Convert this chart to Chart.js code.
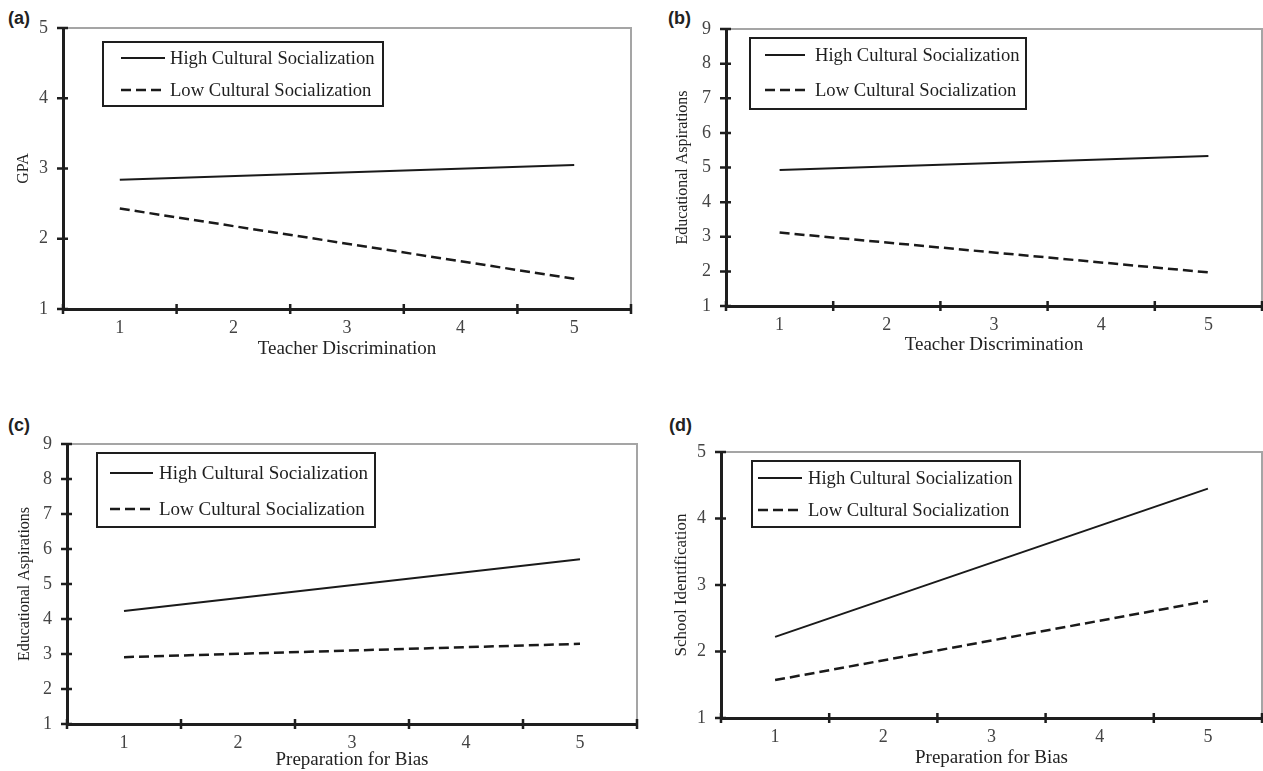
<!DOCTYPE html>
<html>
<head>
<meta charset="utf-8">
<title>Cultural socialization interaction plots</title>
<script src="https://cdn.jsdelivr.net/npm/chart.js@4.4.0/dist/chart.umd.min.js"></script>
<style>
  body { margin: 0; background: #fff; width: 1263px; height: 771px; overflow: hidden; position: relative; }
  .panel { position: absolute; }
  .tag { position: absolute; font-family: "Liberation Sans", Arial, sans-serif; font-weight: bold; font-size: 18px; line-height: 18px; color: #222; }
</style>
</head>
<body>
<div class="tag" style="left:8px;top:9px">(a)</div>
<div class="tag" style="left:668px;top:9px">(b)</div>
<div class="tag" style="left:8px;top:416px">(c)</div>
<div class="tag" style="left:669px;top:416px">(d)</div>

<div class="panel" style="left:0;top:0;width:640px;height:390px"><canvas id="chartA"></canvas></div>
<div class="panel" style="left:640px;top:0;width:623px;height:390px"><canvas id="chartB"></canvas></div>
<div class="panel" style="left:0;top:390px;width:640px;height:381px"><canvas id="chartC"></canvas></div>
<div class="panel" style="left:640px;top:390px;width:623px;height:381px"><canvas id="chartD"></canvas></div>

<script>
// data (only the end points at 1 and 5 are plotted)
const xLabels = ['1', '2', '3', '4', '5'];
const seriesNames = ['High Cultural Socialization', 'Low Cultural Socialization'];

const gpaHigh = [2.84, null, null, null, 3.05];
const gpaLow = [2.43, null, null, null, 1.43];

const aspTeacherHigh = [4.93, null, null, null, 5.33];
const aspTeacherLow = [3.12, null, null, null, 1.97];

const aspPrepHigh = [4.23, null, null, null, 5.71];
const aspPrepLow = [2.91, null, null, null, 3.29];

const schoolHigh = [2.22, null, null, null, 4.45];
const schoolLow = [1.57, null, null, null, 2.76];

const gpaTicks = [1, 5];
const aspTicks = [1, 9];
const schoolTicks = [1, 5];

Chart.defaults.font.family = '"Liberation Serif", "Times New Roman", serif';
Chart.defaults.color = '#333';

// gray frame on top/right + tick marks that cross the axis lines
const crossTicks = {
  id: 'crossTicks',
  afterDraw(chart) {
    const { ctx, chartArea: a, scales: { x, y } } = chart;
    ctx.save();
    ctx.strokeStyle = '#a5a5a5';
    ctx.lineWidth = 2;
    ctx.beginPath();
    ctx.moveTo(a.left, a.top);
    ctx.lineTo(a.right, a.top);
    ctx.lineTo(a.right, a.bottom);
    ctx.stroke();

    ctx.strokeStyle = '#1e1e1e';
    ctx.lineWidth = 2.5;
    ctx.beginPath();
    y.ticks.forEach(t => {
      const py = y.getPixelForValue(t.value);
      ctx.moveTo(a.left - 6, py);
      ctx.lineTo(a.left + 5, py);
    });
    const n = x.ticks.length;
    const step = (x.right - x.left) / n;
    for (let i = 0; i <= n; i++) {
      const px = x.left + i * step;
      ctx.moveTo(px, a.bottom - 5);
      ctx.lineTo(px, a.bottom + 5);
    }
    ctx.stroke();
    ctx.restore();
  }
};

// boxed legend inside the plot
const boxLegend = {
  id: 'boxLegend',
  afterDatasetsDraw(chart, args, opts) {
    const { ctx, chartArea: a } = chart;
    const bx = a.left + opts.dx, by = a.top + opts.dy;
    ctx.save();
    ctx.fillStyle = '#fff';
    ctx.fillRect(bx, by, opts.w, opts.h);
    ctx.lineWidth = 2;
    ctx.strokeStyle = '#1e1e1e';
    ctx.strokeRect(bx, by, opts.w, opts.h);
    chart.data.datasets.forEach((ds, i) => {
      const ly = by + opts.rows[i];
      ctx.setLineDash(ds.borderDash || []);
      ctx.lineWidth = ds.borderWidth;
      ctx.strokeStyle = ds.borderColor;
      ctx.beginPath();
      ctx.moveTo(bx + opts.s0, ly);
      ctx.lineTo(bx + opts.s1, ly);
      ctx.stroke();
      ctx.setLineDash([]);
      ctx.fillStyle = '#1e1e1e';
      ctx.font = opts.font;
      ctx.textBaseline = 'middle';
      ctx.fillText(ds.label, bx + opts.tx, ly + 1);
    });
    ctx.restore();
  }
};

function makePanel(id, high, low, yRange, xTitle, yTitle, lay, legend) {
  return new Chart(document.getElementById(id), {
    type: 'line',
    data: {
      labels: xLabels,
      datasets: [
        { label: seriesNames[0], data: high, borderColor: '#1a1a1a', borderWidth: 2, pointRadius: 0, spanGaps: true },
        { label: seriesNames[1], data: low, borderColor: '#1a1a1a', borderWidth: 2.5, borderDash: [10, 5], pointRadius: 0, spanGaps: true }
      ]
    },
    options: {
      responsive: true,
      maintainAspectRatio: false,
      animation: false,
      layout: { padding: lay.padding },
      scales: {
        x: {
          type: 'category',
          offset: true,
          grid: { display: false, drawTicks: false },
          border: { display: true, color: '#1e1e1e', width: 3 },
          ticks: { padding: 8, color: '#444', font: { size: 18 } },
          title: { display: true, text: xTitle, color: '#222', font: { size: 19 }, padding: 0 },
          afterFit(scale) { scale.height = lay.xHeight; }
        },
        y: {
          min: yRange[0],
          max: yRange[1],
          grid: { display: false, drawTicks: false },
          border: { display: true, color: '#1e1e1e', width: 3 },
          ticks: { stepSize: 1, padding: 15, color: '#444', font: { size: 18 } },
          title: { display: true, text: yTitle, color: '#222', font: { size: lay.yTitleSize }, padding: 0 },
          afterFit(scale) { scale.width = lay.yWidth; }
        }
      },
      plugins: {
        legend: { display: false },
        tooltip: { enabled: false },
        boxLegend: legend
      }
    },
    plugins: [crossTicks, boxLegend]
  });
}

makePanel('chartA', gpaHigh, gpaLow, gpaTicks, 'Teacher Discrimination', 'GPA',
  { padding: { left: 14.4, top: 28, right: 9, bottom: 30 }, yWidth: 48.6, xHeight: 51, yTitleSize: 16 },
  { dx: 40, dy: 14, w: 280, h: 64, s0: 18, s1: 62, tx: 67, rows: [16, 48], font: '18.6px "Liberation Serif", serif' });

makePanel('chartB', aspTeacherHigh, aspTeacherLow, aspTicks, 'Teacher Discrimination', 'Educational Aspirations',
  { padding: { left: 33.4, top: 29, right: 1, bottom: 34 }, yWidth: 52.6, xHeight: 50, yTitleSize: 16 },
  { dx: 24, dy: 9, w: 276, h: 71, s0: 15, s1: 55, tx: 65, rows: [17, 52], font: '18.6px "Liberation Serif", serif' });

makePanel('chartC', aspPrepHigh, aspPrepLow, aspTicks, 'Preparation for Bias', 'Educational Aspirations',
  { padding: { left: 15.4, top: 54, right: 3, bottom: 0 }, yWidth: 51.6, xHeight: 47, yTitleSize: 16 },
  { dx: 30, dy: 9, w: 278, h: 74, s0: 13, s1: 56, tx: 62, rows: [20, 56], font: '19px "Liberation Serif", serif' });

makePanel('chartD', schoolHigh, schoolLow, schoolTicks, 'Preparation for Bias', 'School Identification',
  { padding: { left: 31.8, top: 62, right: 1, bottom: 2 }, yWidth: 49.2, xHeight: 51, yTitleSize: 17 },
  { dx: 31, dy: 9, w: 268, h: 66, s0: 6, s1: 50, tx: 56, rows: [17, 49], font: '18.6px "Liberation Serif", serif' });
</script>
</body>
</html>
